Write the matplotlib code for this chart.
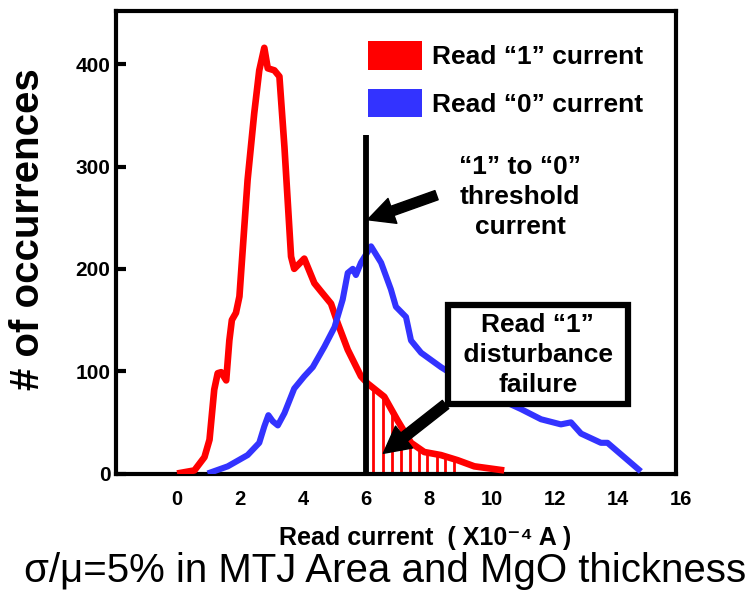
import matplotlib
matplotlib.use("Agg")
import matplotlib.pyplot as plt
from matplotlib.patches import Patch
import numpy as np

plt.rcParams['font.family'] = ['Liberation Sans', 'DejaVu Sans']
plt.rcParams['font.weight'] = 'bold'

# read "1" current histogram (x in 1e-4 A, occurrences)
red_x = [0.0, 0.55, 0.87, 1.03, 1.18, 1.29, 1.40, 1.56, 1.66, 1.74, 1.87, 1.98,
         2.24, 2.45, 2.61, 2.77, 2.88, 3.09, 3.25, 3.41, 3.62, 3.72, 4.04, 4.36,
         4.57, 4.89, 5.10, 5.42, 5.84, 6.05, 6.58, 7.0, 7.43, 7.85, 8.38, 8.91,
         9.44, 10.39]
red_y = [0, 3, 16, 33, 82, 98, 99, 91, 130, 150, 157, 173,
         287, 352, 394, 416, 396, 394, 388, 319, 212, 200, 210, 186,
         178, 166, 147, 121, 95, 88, 75, 52, 30, 21, 18, 13,
         7, 3]

# read "0" current histogram
blue_x = [0.97, 1.61, 2.24, 2.61, 2.77, 2.90, 3.04, 3.20, 3.41, 3.72, 4.04,
          4.31, 4.68, 5.0, 5.26, 5.42, 5.58, 5.68, 5.84, 6.16, 6.48, 6.79,
          6.95, 7.27, 7.43, 7.75, 8.38, 9.0, 10.0, 10.92, 11.56, 12.19, 12.51,
          12.83, 13.46, 13.67, 14.2, 14.73]
blue_y = [0, 7, 18, 30, 46, 57, 51, 47, 59, 83, 95,
          104, 124, 143, 170, 196, 200, 194, 206, 222, 206, 180,
          163, 153, 130, 118, 104, 92, 76, 63, 53, 48, 50,
          39, 30, 30, 16, 2]

threshold = 6.0
threshold_top = 331
hatch_x = [6.23, 6.55, 6.83, 7.11, 7.40, 7.68, 7.95, 8.24, 8.52, 8.80]

x_ticks = [0, 2, 4, 6, 8, 10, 12, 14, 16]
y_ticks = [0, 100, 200, 300, 400]

fig = plt.figure(figsize=(7.49, 5.92), dpi=100)
ax = fig.add_axes([116 / 749, 1 - 473.5 / 592, (684 - 116) / 749, (473.5 - 11) / 592])

red = '#ff0000'
blue = '#3333ff'

# hatch under the red tail, right of threshold
hatch_top = np.interp(hatch_x, red_x, red_y)
ax.vlines(hatch_x, 0, hatch_top, color=red, lw=2.0, zorder=2)

ax.plot(red_x, red_y, color=red, lw=4.8, solid_joinstyle='round',
        solid_capstyle='butt', zorder=3)
ax.plot(blue_x, blue_y, color=blue, lw=4.4, solid_joinstyle='round',
        solid_capstyle='butt', zorder=3)

ax.vlines(threshold, 0, threshold_top, color='black', lw=4.2, zorder=4)

ax.set_xlim(-1.94, 16.1)
ax.set_ylim(0, 452)
right_edge = 15.84
ax.spines['right'].set_position(('data', right_edge))
ax.spines['top'].set_bounds(-1.94, right_edge)
ax.spines['bottom'].set_bounds(-1.94, right_edge)
for s in ax.spines.values():
    s.set_linewidth(3)
    s.set_capstyle('projecting')

ax.set_xticks(x_ticks)
ax.set_yticks(y_ticks)
ax.tick_params(axis='x', length=0, pad=12, labelsize=14.5)
ax.tick_params(axis='y', direction='in', length=7, width=3, pad=4, labelsize=15)

# legend
handles = [Patch(facecolor=red, edgecolor='none', label='Read \u201c1\u201d current'),
           Patch(facecolor=blue, edgecolor='none', label='Read \u201c0\u201d current')]
ax.legend(handles=handles, loc='upper left', bbox_to_anchor=(0.443, 0.935),
          frameon=False, fontsize=19, borderpad=0, handlelength=2.05,
          handleheight=1.29, handletextpad=0.38, labelspacing=0.72,
          borderaxespad=0)

# threshold annotation
ax.text(10.89, 270, '\u201c1\u201d to \u201c0\u201d\nthreshold\ncurrent',
        ha='center', va='center', fontsize=19, linespacing=1.32, zorder=6)
ax.annotate('', xy=(6.05, 248), xytext=(8.24, 272),
            arrowprops=dict(facecolor='black', edgecolor='black', width=7,
                            headwidth=19, headlength=19, shrink=0), zorder=6)

# disturbance failure box
ax.annotate('Read \u201c1\u201d\n disturbance \nfailure', xy=(6.55, 19.7),
            xytext=(11.46, 116), ha='center', va='center', fontsize=19,
            linespacing=1.3,
            bbox=dict(boxstyle='square,pad=0.3', fc='white', ec='black', lw=4.5),
            arrowprops=dict(facecolor='black', edgecolor='black', width=7.5,
                            headwidth=20, headlength=19, shrink=0), zorder=7)

fig.text(28 / 749, 1 - 229 / 592, '# of occurrences', rotation=90,
         ha='center', va='center', fontsize=29)
fig.text(425 / 749, 1 - 545 / 592, 'Read current  ( X10\u207b\u2074 A )',
         ha='center', va='baseline', fontsize=18)
fig.text(385 / 749, 1 - 582 / 592, '\u03c3/\u03bc=5% in MTJ Area and MgO thickness',
         ha='center', va='baseline', fontsize=29, fontweight='normal')

fig.savefig('out.png', dpi=100)
